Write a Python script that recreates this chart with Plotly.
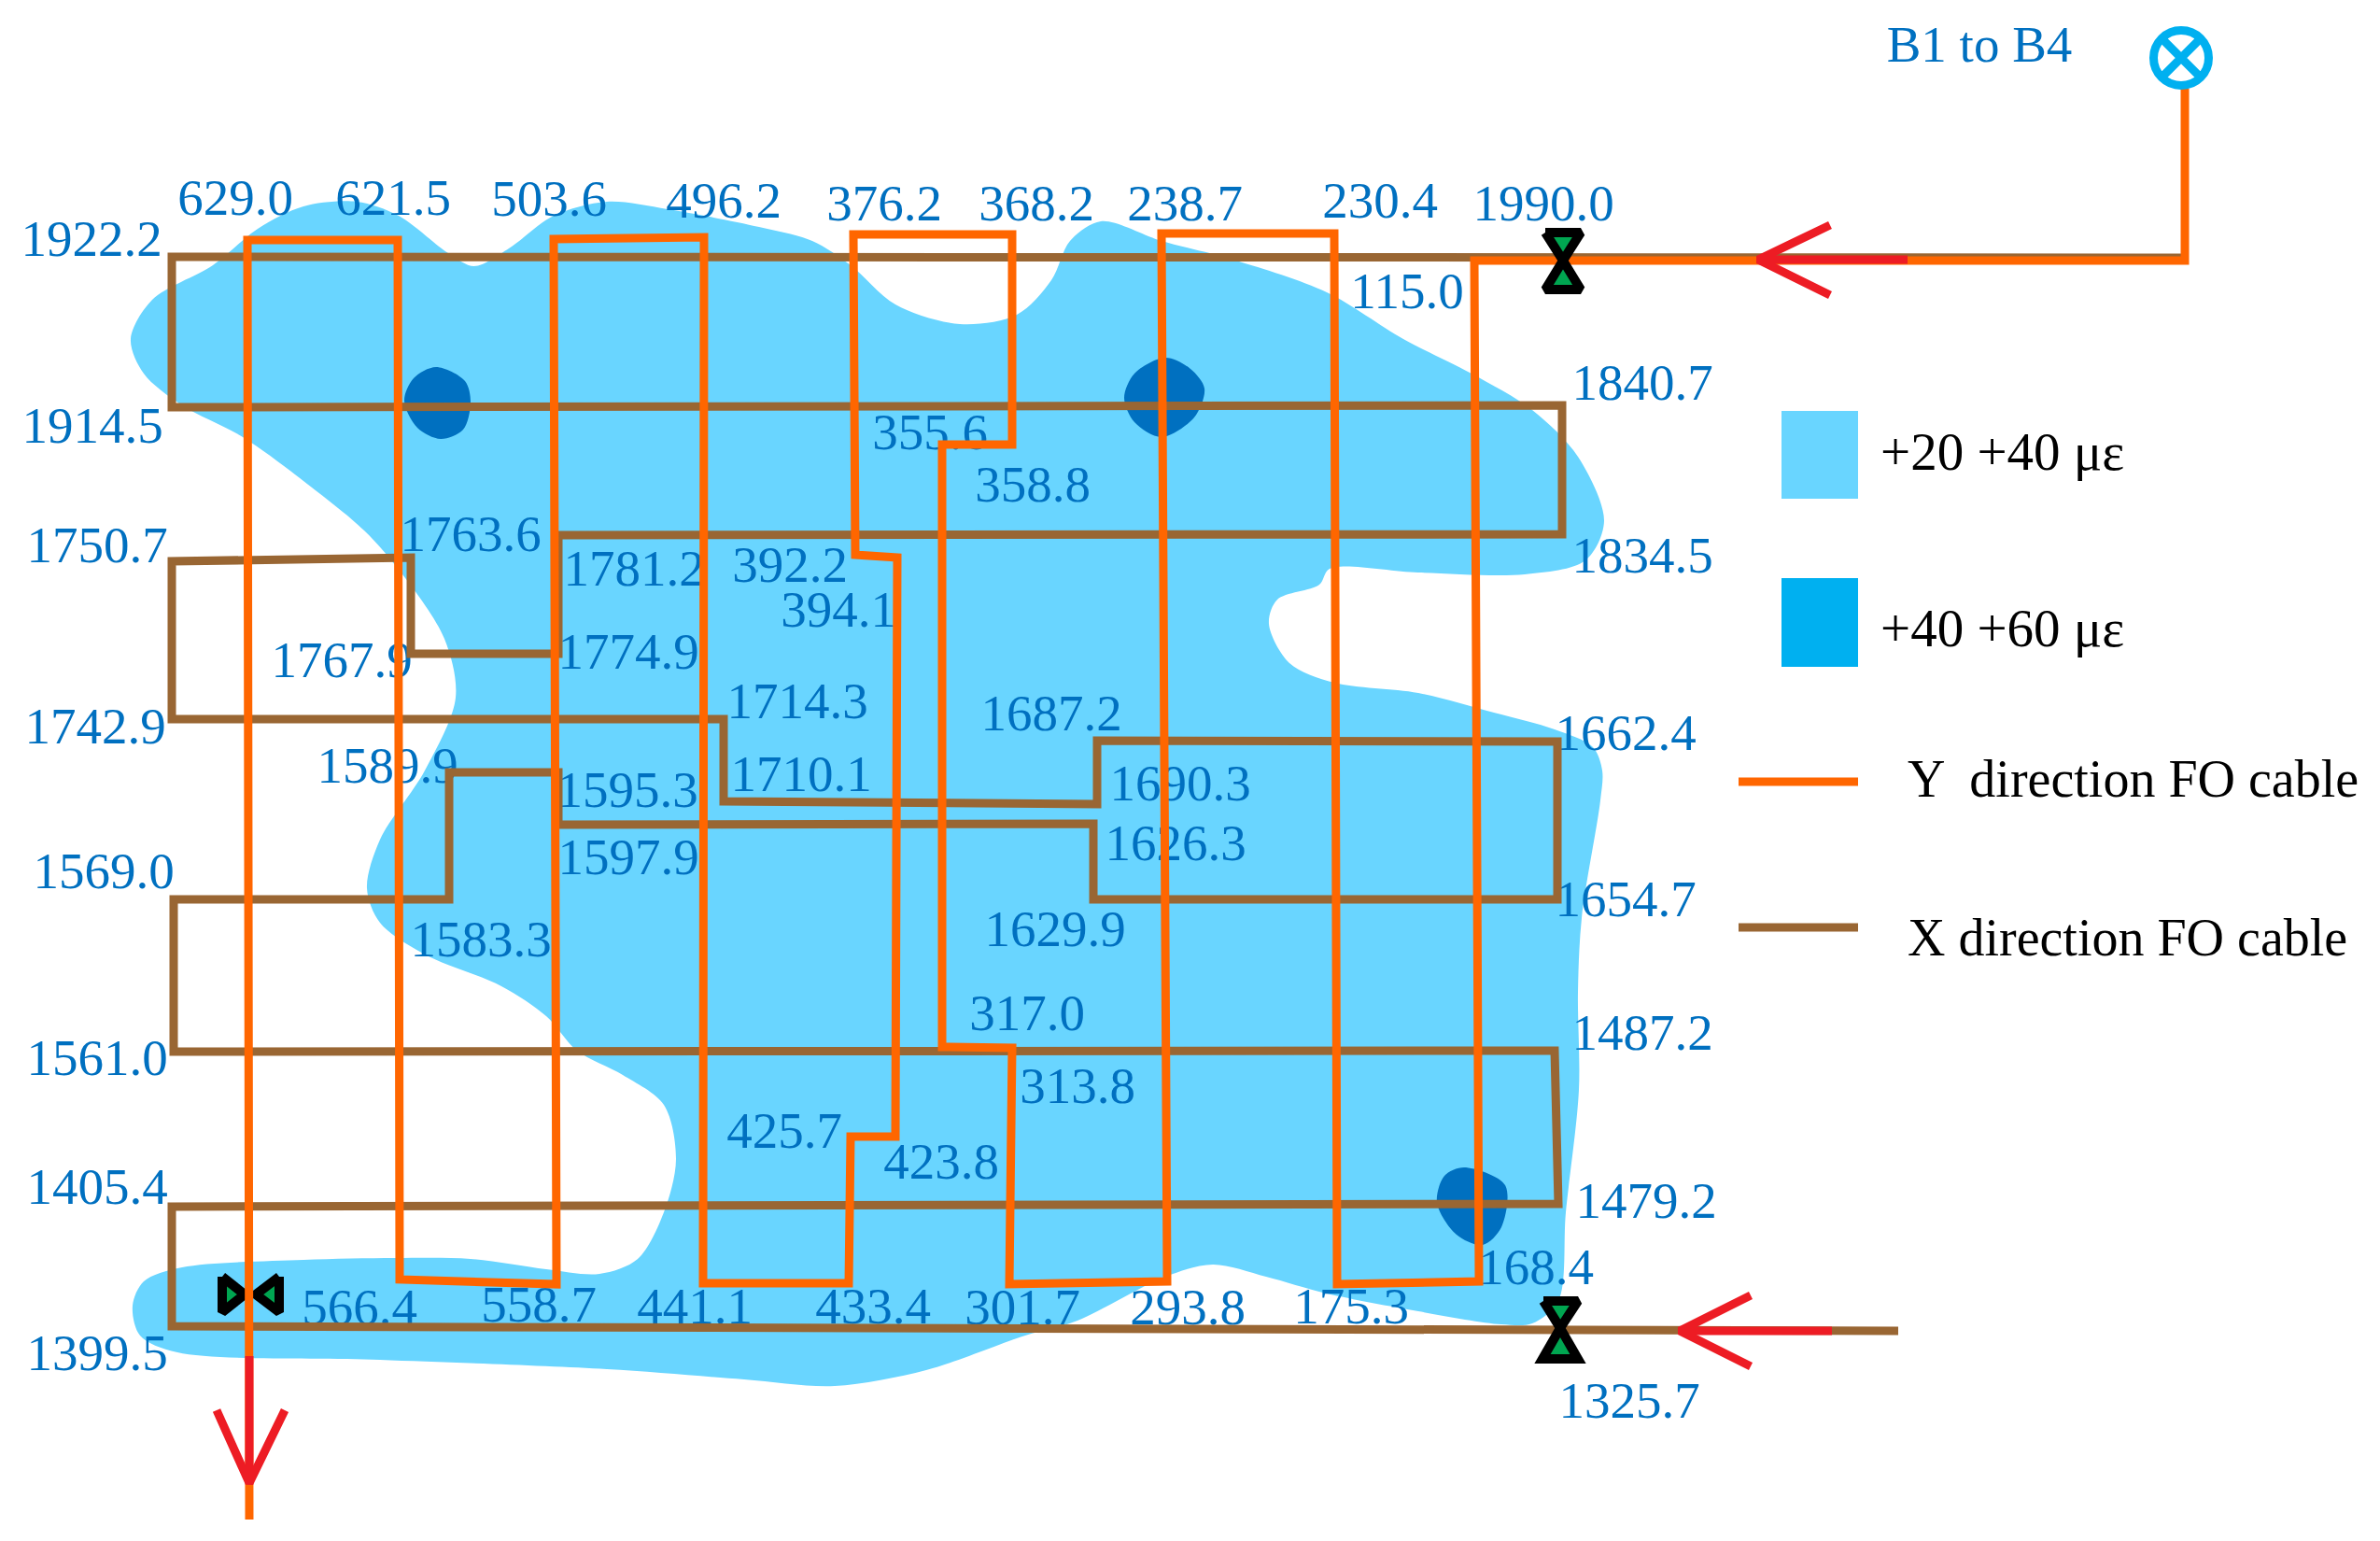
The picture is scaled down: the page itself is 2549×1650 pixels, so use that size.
import plotly.graph_objects as go

# strain zones (outline vertices)
zone_x = [140,163,228,276,325,382,427,480,508,545,593,650,715,813,870,911,959,1028,1089,1126,1146,1179,1244,1324,1421,1503,1576,1641,1690,1718,1698,1633,1519,1424,1413,1368,1359,1381,1429,1519,1600,1665,1706,1716,1714,1694,1690,1691,1677,1669,1641,1608,1519,1421,1356,1299,1248,1154,1098,992,894,797,650,407,190,150,142,154,195,325,423,504,585,642,683,711,724,711,667,618,585,537,455,407,393,407,455,488,476,431,390,325,260,195,154]
zone_y = [363,321,284,245,221,216,231,271,285,266,231,216,224,243,258,284,326,347,337,300,258,237,258,279,313,363,400,439,489,558,600,615,613,609,626,642,668,710,731,742,763,781,800,825,857,983,1062,1167,1298,1393,1417,1418,1404,1385,1367,1354,1367,1414,1430,1467,1484,1477,1466,1456,1448,1430,1398,1372,1357,1349,1347,1348,1359,1364,1348,1298,1241,1183,1151,1125,1088,1056,1022,988,951,899,825,747,684,615,568,515,468,434,400]
peak1_x = [467,498,504,496,472,447,433,443]
peak1_y = [393,408,431,460,470,458,429,405]
peak2_x = [1248,1275,1290,1279,1244,1215,1204,1215]
peak2_y = [383,395,416,447,468,452,426,400]
peak3_x = [1568,1612,1608,1588,1560,1539,1547]
peak3_y = [1250,1269,1314,1333,1322,1288,1259]

# cables
x_cable_x = [2342,184,184,1673,1673,598,598,440,440,184,184,775,775,1175,1175,1668,1668,1171,1171,598,598,481,481,186,186,1665,1669,184,184,2033]
x_cable_y = [276,275,436,434,572,573,700,700,597,601,770,770,858,861,793,794,963,963,882,883,827,827,963,963,1126,1125,1289,1292,1420,1425]
y_cable_x = [2340,2340,1579,1584,1432,1429,1244,1250,1081,1084,1009,1009,1084,1084,914,916,961,959,911,909,753,754,593,596,428,426,265,267]
y_cable_y = [95,279,279,1372,1375,250,250,1372,1375,1122,1121,476,476,251,251,594,597,1217,1217,1374,1374,254,256,1375,1370,257,257,1627]

# flow arrows
arrow1_x = [1960,1883,1960,None,1883,2043]
arrow1_y = [241,278,316,None,278,278]
arrow2_x = [1875,1799,1875,None,1799,1962]
arrow2_y = [1387,1425,1463,None,1425,1425]
arrow3_x = [232,267,305,None,267,267]
arrow3_y = [1510,1588,1510,None,1588,1452]

# valves
left_valve = [
    ([238,238,262,238],[1367,1405,1386,1367]),
    ([299,299,274,299],[1367,1405,1386,1367]),
]
right_valves = [
    ([1655,1693,1674,1655],[249,249,279,249]),
    ([1674,1655,1693,1674],[279,310,310,279]),
    ([1653,1690,1671,1653],[1393,1393,1422,1393]),
    ([1671,1652,1690,1671],[1422,1455,1455,1422]),
]

# sensor readings
labels = ["629.0","621.5","503.6","496.2","376.2","368.2","238.7","230.4","1990.0","115.0",
          "1922.2","1914.5","1750.7","1742.9","1763.6","1781.2","392.2","394.1","1774.9","1767.9",
          "355.6","358.8","1714.3","1687.2","1589.9","1710.1","1595.3","1690.3","1597.9","1626.3",
          "1569.0","1583.3","1629.9","1561.0","317.0","313.8","425.7","423.8","1405.4","566.4",
          "558.7","441.1","433.4","301.7","293.8","175.3","168.4","1325.7","1399.5","1840.7",
          "1834.5","1662.4","1654.7","1487.2","1479.2","B1 to B4"]
label_x = [252,421,588,775,947,1110,1269,1478,1653,1507,98,99,104,102,504,679,846,898,673,366,996,1106,854,1126,415,858,672,1264,673,1259,111,515,1130,104,1100,1154,840,1008,104,385,577,744,935,1095,1272,1447,1645,1745,104,1759,1759,1741,1741,1759,1763,2120]
label_y = [216,216,217,219,222,222,222,219,222,316,260,460,588,782,576,613,609,657,702,711,467,523,755,768,824,833,850,843,922,907,937,1010,999,1137,1089,1167,1215,1248,1275,1404,1401,1403,1403,1404,1404,1403,1361,1504,1453,414,599,789,967,1110,1290,52]

# legend
legend_texts = ["+20 +40 με","+40 +60 με","Y  direction FO cable","X direction FO cable"]
legend_text_x = [2014,2014,2043,2043]
legend_text_y = [489,678,839,1009]
legend_text_size = [57,57,56,56]

LIGHT, DARK, SWATCH2 = "#69D5FF", "#0070C0", "#00B0F0"
BROWN, ORANGE, RED = "#996633", "#FF6600", "#ED1C24"
FONT = "Liberation Serif"

fig = go.Figure()
def poly(x, y, fill, spline=True):
    fig.add_trace(go.Scatter(x=x+x[:1], y=y+y[:1], mode="lines", fill="toself", fillcolor=fill,
                             line=dict(width=0, color=fill, shape="spline" if spline else "linear", smoothing=0.9)))
def line(x, y, color, w):
    fig.add_trace(go.Scatter(x=x, y=y, mode="lines", line=dict(color=color, width=w)))
def valves(items):
    for vx, vy in items:
        fig.add_trace(go.Scatter(x=vx, y=vy, mode="lines", fill="toself", fillcolor="#00A651",
                                 line=dict(color="black", width=10)))

poly(zone_x, zone_y, LIGHT)
poly(peak1_x, peak1_y, DARK)
poly(peak2_x, peak2_y, DARK)
poly(peak3_x, peak3_y, DARK)

fig.add_trace(go.Scatter(x=label_x, y=label_y, mode="text", text=labels, textposition="middle center",
                         textfont=dict(family=FONT, size=55, color=DARK)))

line(x_cable_x, x_cable_y, BROWN, 9)
valves(left_valve)
line(y_cable_x, y_cable_y, ORANGE, 9)
for ax, ay in [(arrow1_x, arrow1_y), (arrow2_x, arrow2_y), (arrow3_x, arrow3_y)]:
    line(ax, ay, RED, 9)
valves(right_valves)

# source marker
fig.add_trace(go.Scatter(x=[2336], y=[62], mode="markers",
                         marker=dict(symbol="circle-x", size=59, color="rgba(0,0,0,0)",
                                     line=dict(color=SWATCH2, width=9))))

# legend swatches and samples
poly([1908,1990,1990,1908],[440,440,534,534], LIGHT, False)
poly([1908,1990,1990,1908],[619,619,714,714], SWATCH2, False)
line([1862,1990],[837,837], ORANGE, 9)
line([1862,1990],[993,993], BROWN, 9)
for t, tx, ty, sz in zip(legend_texts, legend_text_x, legend_text_y, legend_text_size):
    fig.add_trace(go.Scatter(x=[tx], y=[ty], mode="text", text=[t], textposition="middle right",
                             textfont=dict(family=FONT, size=sz, color="black")))

fig.update_layout(width=2549, height=1650, margin=dict(l=0, r=0, t=0, b=0), showlegend=False,
                  plot_bgcolor="white", paper_bgcolor="white", hovermode=False,
                  xaxis=dict(range=[0,2549], visible=False, fixedrange=True),
                  yaxis=dict(range=[1650,0], visible=False, fixedrange=True))
fig.write_html("out.html", config=dict(displayModeBar=False),
               post_script="document.body.style.margin='0';document.body.style.overflow='hidden';")
